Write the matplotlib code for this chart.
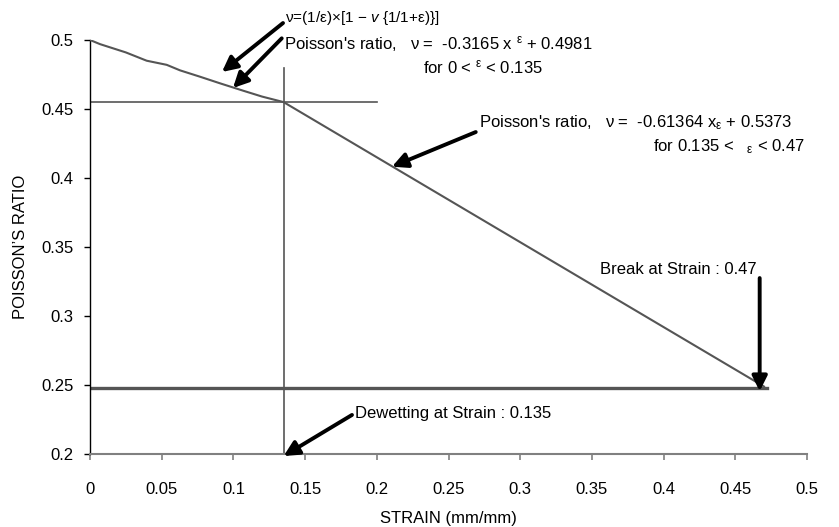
import matplotlib
matplotlib.use("Agg")
import matplotlib.pyplot as plt

plt.rcParams['font.family'] = ['Liberation Sans', 'DejaVu Sans']
plt.rcParams['mathtext.fontset'] = 'custom'
plt.rcParams['mathtext.rm'] = 'Liberation Sans'
plt.rcParams['mathtext.it'] = 'Liberation Sans:italic'

# measured curve (strain vs poisson's ratio)
strain = [0, 0.007, 0.016, 0.025, 0.0395, 0.0535, 0.0628, 0.0767,
          0.0907, 0.1067, 0.120, 0.135, 0.47]
nu = [0.500, 0.497, 0.494, 0.491, 0.485, 0.482, 0.478, 0.4734,
      0.4686, 0.4633, 0.459, 0.455, 0.2489]

# reference lines
dewet_strain = 0.135
dewet_nu = 0.455
break_strain = 0.467
break_nu = 0.248

xticks = [0, 0.05, 0.1, 0.15, 0.2, 0.25, 0.3, 0.35, 0.4, 0.45, 0.5]
yticks = [0.2, 0.25, 0.3, 0.35, 0.4, 0.45, 0.5]

fig = plt.figure(figsize=(8.39, 5.27), dpi=100)
ax = fig.add_axes([90/839, 1 - 454/527, 717/839, 414/527])

grey = '#555555'
ax.plot(strain, nu, color=grey, lw=1.5, zorder=3)
ax.plot([0, 0.2], [dewet_nu, dewet_nu], color=grey, lw=1.2)
ax.plot([dewet_strain, dewet_strain], [0.2, 0.48], color=grey, lw=1.2)
ax.plot([0, 0.472], [break_nu, break_nu], color=grey, lw=2.4)

ax.set_xlim(0, 0.5)
ax.set_ylim(0.2, 0.5)
ax.set_xticks(xticks)
ax.set_xticklabels([f"{t:g}" for t in xticks])
ax.set_yticks(yticks)
ax.set_yticklabels([f"{t:g}" for t in yticks])

for s in ['top', 'right']:
    ax.spines[s].set_visible(False)
ax.spines['left'].set_color('black')
ax.spines['left'].set_linewidth(1.0)
ax.spines['bottom'].set_color('#808080')
ax.spines['bottom'].set_linewidth(1.5)
ax.tick_params(axis='x', length=4, color='#808080', width=1.2, pad=16, labelsize=12)
ax.tick_params(axis='y', length=4, color='black', width=1.0, pad=8, labelsize=12)

ax.set_xlabel('STRAIN (mm/mm)', fontsize=12, labelpad=10)
ax.set_ylabel("POISSON\u2019S RATIO", fontsize=12, labelpad=9)

arrow = dict(arrowstyle='-|>,head_width=0.45,head_length=0.9', lw=2.8,
             color='black', shrinkA=0, shrinkB=0)

# annotations
ax.annotate('', xy=(0.092, 0.4768), xytext=(0.1346, 0.5123), arrowprops=arrow,
            annotation_clip=False)
ax.text(0.136, 0.516, r"ν=(1/ε)×[1 − $\it{v}$ {1/1+ε)}]", fontsize=11,
        va='center', ha='left', clip_on=False)

ax.annotate('', xy=(0.0997, 0.4652), xytext=(0.1337, 0.5012), arrowprops=arrow,
            annotation_clip=False)
ax.text(0.1355, 0.497, r"Poisson's ratio,   ν =  -0.3165 x $^{\mathrm{ε}}$ + 0.4981",
        fontsize=12, va='center', ha='left', clip_on=False)
ax.text(0.2322, 0.4804, r"for 0 < $^{\mathrm{ε}}$ < 0.135", fontsize=12,
        va='center', ha='left')

ax.annotate('', xy=(0.2106, 0.4082), xytext=(0.269, 0.4333), arrowprops=arrow)
ax.text(0.2713, 0.4399, r"Poisson's ratio,   ν =  -0.61364 x$_{\mathrm{ε}}$ + 0.5373",
        fontsize=12, va='center', ha='left', clip_on=False)
ax.text(0.3926, 0.4225, r"for 0.135 <   $_{\mathrm{ε}}$ < 0.47", fontsize=12,
        va='center', ha='left')

ax.annotate('', xy=(break_strain, 0.2455), xytext=(break_strain, 0.3275), arrowprops=arrow)
ax.text(0.3556, 0.334, "Break at Strain : 0.47", fontsize=12, va='center', ha='left')

ax.annotate('', xy=(0.135, 0.1985), xytext=(0.1827, 0.2283), arrowprops=arrow,
            annotation_clip=False)
ax.text(0.1848, 0.2297, "Dewetting at Strain : 0.135", fontsize=12, va='center', ha='left')

fig.savefig('out.png', dpi=100)
